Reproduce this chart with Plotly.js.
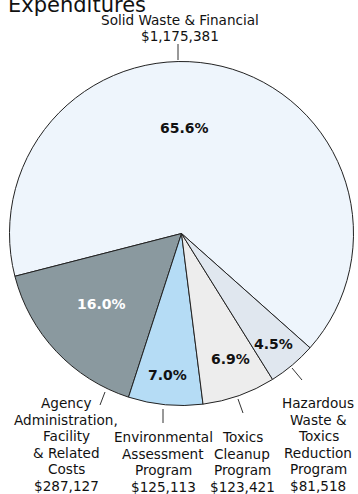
<!DOCTYPE html>
<html>
<head>
<meta charset="utf-8">
<script src="https://cdn.plot.ly/plotly-3.0.1.min.js"></script>
<style>
  html, body { margin: 0; padding: 0; background: #fff; }
  #chart { width: 358px; height: 494px; }
</style>
</head>
<body>
<div id="chart"></div>
<script>
// Expenditure categories, in the order they run counter-clockwise round the pie
const categories = [
  'Solid Waste & Financial',
  'Agency Administration, Facility & Related Costs',
  'Environmental Assessment Program',
  'Toxics Cleanup Program',
  'Hazardous Waste & Toxics Reduction Program'
];
const amounts = [1175381, 287127, 125113, 123421, 81518];

// How each outside label is broken into lines
const labelLines = [
  ['Solid Waste & Financial'],
  ['Agency', 'Administration,', 'Facility', '& Related', 'Costs'],
  ['Environmental', 'Assessment', 'Program'],
  ['Toxics', 'Cleanup', 'Program'],
  ['Hazardous', 'Waste &', 'Toxics', 'Reduction', 'Program']
];

const sliceColors = ['#eef5fc', '#8a999f', '#b5dcf5', '#ededed', '#e0e7ef'];
const pctColors = ['#111', '#fff', '#111', '#111', '#111'];

// Layout helpers (pixel positions -> paper coordinates)
const W = 358, H = 494;
const px = x => x / W;
const py = y => 1 - y / H;

const cx = 181.5, cy = 233.5, R = 172;

// Outside labels: x centre and y of the first line; lines are stacked tightly
const labelPos = [[180, 20], [66, 403], [163, 437], [242, 437], [318, 403]];
const lineStep = 16.5;
const pctPos = [[184, 128], [102, 304], [167, 375], [231, 359], [273, 344]];
// Leader lines from each label toward the pie
const leaders = [
  [[178, 44], [178, 60]],
  [[100, 405], [105, 392]],
  [[163, 409], [163, 423]],
  [[238, 399], [243, 413]],
  [[292, 368], [302, 380]]
];

const total = amounts.reduce((a, b) => a + b, 0);
const money = v => '$' + v.toLocaleString('en-US');

const trace = {
  type: 'pie',
  labels: categories,
  values: amounts,
  sort: false,
  direction: 'counterclockwise',
  rotation: 255.6,
  textinfo: 'none',
  hoverinfo: 'label+value+percent',
  marker: { colors: sliceColors, line: { color: '#222', width: 1 } },
  domain: { x: [px(cx - R), px(cx + R)], y: [py(cy + R), py(cy - R)] },
  showlegend: false
};

const font = "'DejaVu Sans', Verdana, sans-serif";
const annotations = [];

annotations.push({
  text: 'Expenditures', xref: 'paper', yref: 'paper',
  x: px(6), y: py(4.5), xanchor: 'left', yanchor: 'middle',
  showarrow: false, font: { family: font, size: 21, color: '#111' }
});

categories.forEach((c, i) => {
  const lines = labelLines[i].concat([money(amounts[i])]);
  lines.forEach((ln, k) => {
    annotations.push({
      text: ln, xref: 'paper', yref: 'paper',
      x: px(labelPos[i][0]), y: py(labelPos[i][1] + k * lineStep),
      xanchor: 'center', yanchor: 'middle', align: 'center',
      showarrow: false, font: { family: font, size: 13.6, color: '#111' }
    });
  });
  annotations.push({
    text: (amounts[i] / total * 100).toFixed(1) + '%', xref: 'paper', yref: 'paper',
    x: px(pctPos[i][0]), y: py(pctPos[i][1]),
    xanchor: 'center', yanchor: 'middle',
    showarrow: false, font: { family: font, size: 14, color: pctColors[i], weight: 'bold' }
  });
});

const shapes = leaders.map(([a, b]) => ({
  type: 'line', xref: 'paper', yref: 'paper',
  x0: px(a[0]), y0: py(a[1]), x1: px(b[0]), y1: py(b[1]),
  line: { color: '#333', width: 1 }
}));

const layout = {
  width: W, height: H,
  margin: { l: 0, r: 0, t: 0, b: 0 },
  paper_bgcolor: '#fff',
  annotations: annotations,
  shapes: shapes
};

Plotly.newPlot('chart', [trace], layout, { displayModeBar: false, staticPlot: true });
</script>
</body>
</html>
